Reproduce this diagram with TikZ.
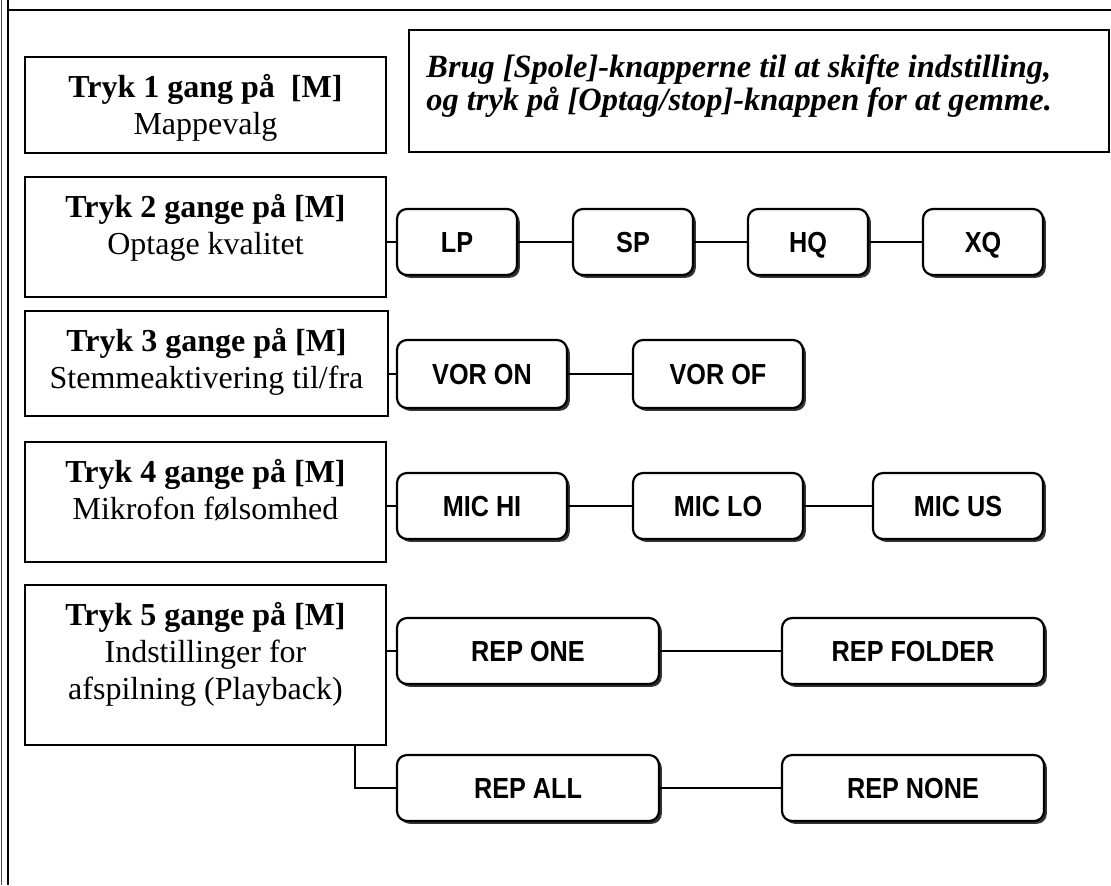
\documentclass[tikz,border=0pt]{standalone}
\usepackage{fontspec}
\setmainfont{Liberation Serif}
\newfontfamily\btnfont[FakeStretch=0.87]{Liberation Sans}
\usetikzlibrary{shadows}

\begin{document}
\begin{tikzpicture}[x=0.5pt,y=-0.5pt,
    menubox/.style={draw, line width=1pt, minimum width=180.5pt, inner sep=0pt},
    menutext/.style={anchor=north, align=center, inner sep=0pt, yshift=-9pt,
      font=\fontsize{16}{18.5}\selectfont},
    btn/.style={draw, line width=1.1pt, rounded corners=5pt, fill=white,
      minimum height=33pt, inner sep=0pt, text height=10.4pt, text depth=0pt,
      font=\btnfont\bfseries\fontsize{14.5}{16}\selectfont,
      drop shadow={shadow xshift=1.4pt, shadow yshift=-1.4pt, opacity=1, fill=black!80}},
    link/.style={line width=0.9pt}]
  \useasboundingbox (0,0) rectangle (1111,885);

  % Outer frame
  \draw [line width=0.5pt, black!70] (1,0) -- (1,885);
  \draw [line width=1.1pt] (8,0) -- (8,885);
  \draw [line width=1pt] (8,10) -- (1111,10);

  % Note box
  \node [draw, line width=1pt, minimum width=350pt, minimum height=61pt, inner sep=0pt] (note) at (759,91) {};
  \node [anchor=north west, align=left, inner sep=0pt, xshift=9pt, yshift=-12.5pt,
    font=\bfseries\itshape\fontsize{16.2}{16.5}\selectfont] (notetext) at (note.north west)
    {Brug [Spole]-knapperne til at skifte indstilling,\\og tryk på [Optag/stop]-knappen for at gemme.};

  % Menu box 1
  \node [menubox, minimum height=48pt] (m1) at (205.5,105) {};
  \node [menutext] (t1) at (m1.north) {\textbf{Tryk 1 gang på\ \ [M]}\\Mappevalg};

  % Menu box 2
  \node [menubox, minimum height=60pt] (m2) at (205.5,237) {};
  \node [menutext] (t2) at (m2.north) {\textbf{Tryk 2 gange på [M]}\\Optage kvalitet};

  % Menu box 3
  \node [menubox, minimum width=181.5pt, minimum height=52.5pt] (m3) at (206.5,363.5) {};
  \node [menutext] (t3) at (m3.north) {\textbf{Tryk 3 gange på [M]}\\Stemmeaktivering til/fra};

  % Menu box 4
  \node [menubox, minimum height=60pt] (m4) at (205.5,502) {};
  \node [menutext] (t4) at (m4.north) {\textbf{Tryk 4 gange på [M]}\\Mikrofon følsomhed};

  % Menu box 5
  \node [menubox, minimum height=80pt] (m5) at (205.5,665) {};
  \node [menutext] (t5) at (m5.north) {\textbf{Tryk 5 gange på [M]}\\Indstillinger for\\afspilning (Playback)};
  \coordinate (m5b) at (355,745);

  % Recording quality
  \node [btn, minimum width=60pt] (lp) at (457,242) {LP};
  \node [btn, minimum width=60pt] (sp) at (633,242) {SP};
  \node [btn, minimum width=60pt] (hq) at (808,242) {HQ};
  \node [btn, minimum width=60pt] (xq) at (983,242) {XQ};
  \draw [link] (lp.west -| m2.east) -- (lp.west);
  \draw [link] (lp) -- (sp);
  \draw [link] (sp) -- (hq);
  \draw [link] (hq) -- (xq);

  % Voice activation
  \node [btn, minimum width=85pt, minimum height=34pt] (voron) at (482,374) {VOR ON};
  \node [btn, minimum width=85pt, minimum height=34pt] (voroff) at (718,374) {VOR OF};
  \draw [link] (voron.west -| m3.east) -- (voron.west);
  \draw [link] (voron) -- (voroff);

  % Microphone sensitivity
  \node [btn, minimum width=85pt] (michi) at (482,506) {MIC HI};
  \node [btn, minimum width=85pt] (miclo) at (718,506) {MIC LO};
  \node [btn, minimum width=85pt] (micus) at (958,506) {MIC US};
  \draw [link] (michi.west -| m4.east) -- (michi.west);
  \draw [link] (michi) -- (miclo);
  \draw [link] (miclo) -- (micus);

  % Playback settings
  \node [btn, minimum width=131pt] (repone) at (528,651) {REP ONE};
  \node [btn, minimum width=131pt] (repfolder) at (913,651) {REP FOLDER};
  \node [btn, minimum width=131pt] (repall) at (528,788) {REP ALL};
  \node [btn, minimum width=131pt] (repnone) at (913,788) {REP NONE};
  \draw [link] (repone.west -| m5.east) -- (repone.west);
  \draw [link] (repone) -- (repfolder);
  \draw [link] (m5b) |- (repall.west);
  \draw [link] (repall) -- (repnone);
\end{tikzpicture}
\end{document}
